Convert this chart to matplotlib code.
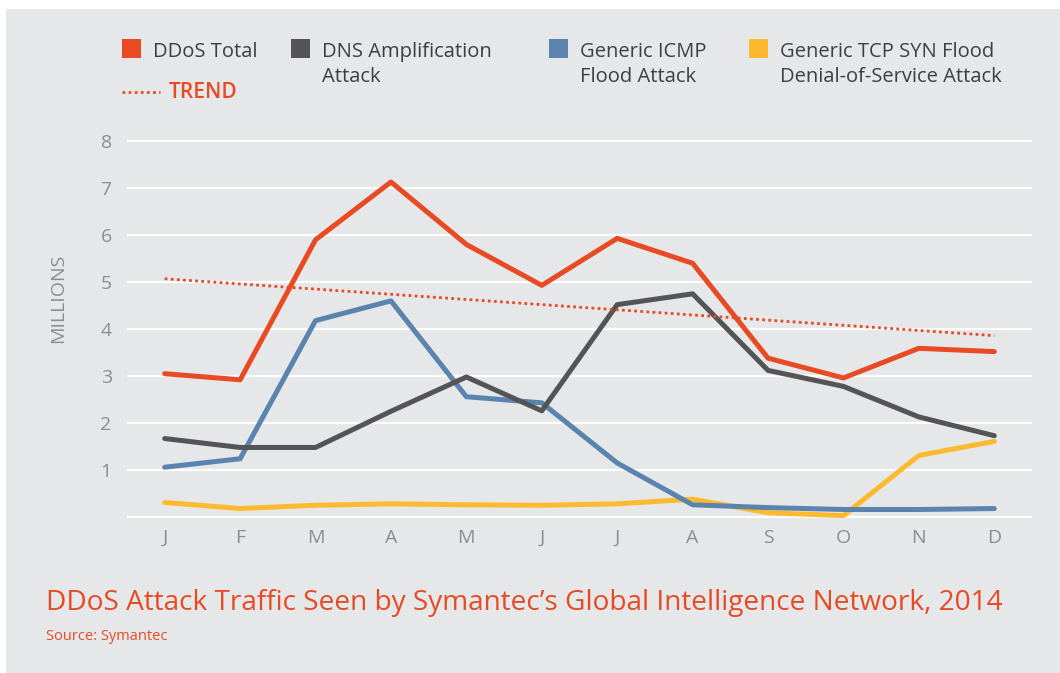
import matplotlib
matplotlib.use("Agg")
import matplotlib.pyplot as plt
from matplotlib.patches import Rectangle
from matplotlib.lines import Line2D

# Monthly attack volumes, millions
MONTHS = ["J", "F", "M", "A", "M", "J", "J", "A", "S", "O", "N", "D"]
DDOS_TOTAL = [3.05, 2.92, 5.90, 7.13, 5.80, 4.93, 5.93, 5.40, 3.38, 2.96, 3.59, 3.52]
DNS_AMP = [1.67, 1.48, 1.48, 2.25, 2.98, 2.26, 4.52, 4.75, 3.12, 2.78, 2.13, 1.73]
ICMP_FLOOD = [1.06, 1.24, 4.18, 4.60, 2.56, 2.43, 1.15, 0.26, 0.20, 0.16, 0.16, 0.18]
TCP_SYN = [0.31, 0.18, 0.25, 0.28, 0.26, 0.25, 0.28, 0.38, 0.09, 0.03, 1.31, 1.61]
TREND_ENDS = [5.07, 3.86]  # trend line at January and December
Y_TICKS = [1, 2, 3, 4, 5, 6, 7, 8]

RED = "#E84B24"
DARK = "#545456"
BLUE = "#5A83AE"
YELLOW = "#FDBA2F"
BG = "#E6E7E9"
TICK_GRAY = "#8C8D8F"
TEXT_DARK = "#3E3E40"

plt.rcParams["font.family"] = ["Open Sans", "DejaVu Sans"]

W, H = 1060, 673
fig = plt.figure(figsize=(10.6, 6.73), dpi=100)
fig.patch.set_facecolor("white")
# grey panel behind everything
fig.add_artist(Rectangle((6 / W, 0), 1 - 6 / W, 1 - 9 / H,
                         transform=fig.transFigure, facecolor=BG,
                         edgecolor="none", zorder=0))


def fx(px):
    return px / W


def fy(py):
    return 1 - py / H


ax = fig.add_axes([fx(127), fy(525), (1032 - 127) / W, (525 - 127) / H])
ax.set_facecolor("none")

x = list(range(len(MONTHS)))
ax.set_xlim(-0.5, 11.5)
ax.set_ylim(-0.17, 8.3)

for yv in [0] + Y_TICKS:
    ax.axhline(yv, color="white", linewidth=1.6, zorder=1)

lw = 3.6
ax.plot(x, TCP_SYN, color=YELLOW, linewidth=lw, solid_capstyle="round", zorder=3)
ax.plot(x, ICMP_FLOOD, color=BLUE, linewidth=lw, solid_capstyle="round", zorder=3)
ax.plot(x, DNS_AMP, color=DARK, linewidth=lw, solid_capstyle="round", zorder=3)
ax.plot(x, DDOS_TOTAL, color=RED, linewidth=lw, solid_capstyle="round", zorder=4)
ax.plot([x[0], x[-1]], TREND_ENDS, color=RED, linewidth=2.0,
        linestyle=(0, (1, 1.2)), zorder=4)

ax.set_xticks(x)
ax.set_xticklabels(MONTHS)
ax.set_yticks(Y_TICKS)
ax.set_yticklabels([str(v) for v in Y_TICKS])
ax.tick_params(axis="both", length=0, colors=TICK_GRAY, labelsize=14)
ax.tick_params(axis="x", pad=3)
ax.tick_params(axis="y", pad=11)
for s in ax.spines.values():
    s.set_visible(False)

fig.text(fx(58), fy(298), "MILLIONS", color=TICK_GRAY, fontsize=14,
         rotation=90, ha="center", va="center")

# legend drawn by hand in figure pixels
legend_items = [
    (122, RED, "DDoS Total"),
    (291, DARK, "DNS Amplification\nAttack"),
    (549, BLUE, "Generic ICMP\nFlood Attack"),
    (749, YELLOW, "Generic TCP SYN Flood\nDenial-of-Service Attack"),
]
for px, col, label in legend_items:
    fig.add_artist(Rectangle((fx(px), fy(58)), 19 / W, 19 / H,
                             transform=fig.transFigure, facecolor=col,
                             edgecolor="none"))
    fig.text(fx(px + 31), fy(42), label, fontsize=14.5, color=TEXT_DARK,
             va="top", ha="left", linespacing=1.3)

fig.add_artist(Line2D([fx(122), fx(160)], [fy(92), fy(92)],
                      transform=fig.transFigure, color=RED, linewidth=2.0,
                      linestyle=(0, (1, 1.2))))
fig.text(fx(169), fy(93), "TREND", fontsize=15, color=RED,
         fontweight="semibold", va="center", ha="left")

fig.text(fx(46), fy(610), "DDoS Attack Traffic Seen by Symantec\u2019s Global Intelligence Network, 2014",
         fontsize=20.2, color=RED, va="baseline", ha="left")
fig.text(fx(46), fy(640), "Source: Symantec", fontsize=10.5, color=RED,
         va="baseline", ha="left")

fig.savefig("out.png", dpi=100, facecolor=fig.get_facecolor())
